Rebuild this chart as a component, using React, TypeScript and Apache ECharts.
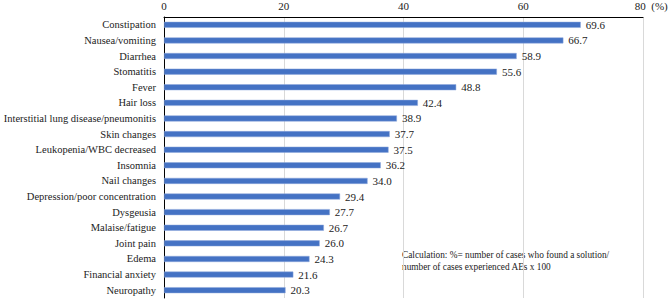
import React, { useEffect, useRef } from "react";
import * as echarts from "echarts";

const categories = [
  "Constipation",
  "Nausea/vomiting",
  "Diarrhea",
  "Stomatitis",
  "Fever",
  "Hair loss",
  "Interstitial lung disease/pneumonitis",
  "Skin changes",
  "Leukopenia/WBC decreased",
  "Insomnia",
  "Nail changes",
  "Depression/poor concentration",
  "Dysgeusia",
  "Malaise/fatigue",
  "Joint pain",
  "Edema",
  "Financial anxiety",
  "Neuropathy",
];
const values = [69.6, 66.7, 58.9, 55.6, 48.8, 42.4, 38.9, 37.7, 37.5, 36.2, 34.0, 29.4, 27.7, 26.7, 26.0, 24.3, 21.6, 20.3];
const xTicks = [0, 20, 40, 60, 80];
const unitLabel = "(%)";
const noteLines = [
  "Calculation: %= number of cases who found a solution/",
  "number of cases experienced AEs x 100",
];

const FONT = "Liberation Serif";

export default function App() {
  const ref = useRef<HTMLDivElement>(null);
  useEffect(() => {
    if (!ref.current) return;
    const chart = echarts.init(ref.current, undefined, { renderer: "svg" });
    chart.setOption({
      animation: false,
      textStyle: { fontFamily: FONT },
      grid: { left: 164, right: 26, top: 17, bottom: 1, containLabel: false, outerBoundsMode: "none" },
      xAxis: {
        type: "value",
        position: "top",
        min: xTicks[0],
        max: xTicks[xTicks.length - 1],
        interval: 20,
        axisLine: { show: true, lineStyle: { color: "#000", width: 1 } },
        axisTick: { show: false },
        axisLabel: {
          color: "#222",
          fontFamily: FONT,
          fontSize: 11,
          margin: 6,
          formatter: (v: number) => (v === 80 ? "      80  " + unitLabel : String(v)),
        },
        splitLine: { show: true, lineStyle: { color: "#d9d9d9", width: 1 } },
      },
      yAxis: {
        type: "category",
        inverse: true,
        data: categories,
        axisLine: { show: true, lineStyle: { color: "#000", width: 1 } },
        axisTick: { show: false },
        axisLabel: { color: "#222", fontFamily: FONT, fontSize: 10.5, margin: 8 },
      },
      series: [
        {
          type: "bar",
          data: values,
          barWidth: 6,
          itemStyle: { color: "#4472C4", borderColor: "#8fa9dc", borderWidth: 0.5 },
          label: {
            show: true,
            position: "right",
            distance: 5,
            color: "#222",
            fontFamily: FONT,
            fontSize: 11,
            formatter: (p: any) => Number(p.value).toFixed(1),
          },
        },
      ],
      graphic: [
        {
          type: "text",
          left: 402,
          top: 249,
          style: {
            text: noteLines.join("\n"),
            fill: "#222",
            fontFamily: FONT,
            fontSize: 9.3,
            lineHeight: 12,
          },
        },
      ],
    });
    return () => chart.dispose();
  }, []);
  return <div ref={ref} style={{ width: 669, height: 299, position: "absolute", left: 0, top: 0 }} />;
}
